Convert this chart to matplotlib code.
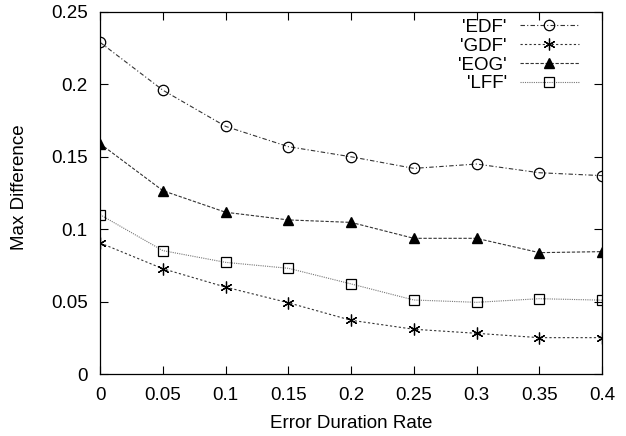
import numpy as np
import matplotlib
matplotlib.use('Agg')
import matplotlib.pyplot as plt

plt.rcParams['font.family'] = ['Liberation Sans', 'DejaVu Sans']

rate = [0, 0.05, 0.1, 0.15, 0.2, 0.25, 0.3, 0.35, 0.4]
edf = [0.229, 0.196, 0.171, 0.157, 0.150, 0.142, 0.145, 0.139, 0.137]
gdf = [0.0905, 0.0727, 0.060, 0.0492, 0.0371, 0.0309, 0.0281, 0.0251, 0.0251]
eog = [0.159, 0.1266, 0.1117, 0.1064, 0.1047, 0.0937, 0.0937, 0.0838, 0.0845]
lff = [0.110, 0.0852, 0.0771, 0.073, 0.0622, 0.0511, 0.0495, 0.052, 0.051]

fig = plt.figure(figsize=(6.26, 4.36), dpi=100)
ax = fig.add_axes([0.16, 0.1422, 0.8017, 0.8303])

ms = 7.5
ax.plot(rate, edf, color='#333333', lw=0.8, dashes=(4, 2, 1, 2),
        marker='o', ms=ms, mfc='none', mec='black', mew=0.9, label="'EDF'")
ax.plot(rate, gdf, color='#333333', lw=0.8, dashes=(2, 2),
        marker=(6, 2, 0), ms=ms + 1, mec='black', mew=0.9, label="'GDF'")
ax.plot(rate, eog, color='#333333', lw=0.8, dashes=(3, 1.5),
        marker='^', ms=ms, mfc='black', mec='black', label="'EOG'")
ax.plot(rate, lff, color='#777777', lw=0.8, dashes=(1, 1),
        marker='s', ms=ms, mfc='none', mec='black', mew=0.9, label="'LFF'")

ax.set_xlim(0, 0.4)
ax.set_ylim(0, 0.25)
ax.set_xticks(rate)
ax.set_xticklabels(['0', '0.05', '0.1', '0.15', '0.2', '0.25', '0.3', '0.35', '0.4'])
ax.set_yticks([0, 0.05, 0.1, 0.15, 0.2, 0.25])
ax.set_yticklabels(['0', '0.05', '0.1', '0.15', '0.2', '0.25'])
ax.tick_params(direction='in', top=True, right=True, length=6, width=0.8,
               labelsize=13.5, pad=9)
for s in ax.spines.values():
    s.set_linewidth(0.9)

ax.set_xlabel('Error Duration Rate', fontsize=13.5, labelpad=8)
ax.set_ylabel('Max Difference', fontsize=13.5)
ax.yaxis.set_label_coords(-0.143, 0.515)

ax.legend(loc='upper right', markerfirst=False, frameon=False, fontsize=13.5,
          numpoints=1, handlelength=3.15, handletextpad=0.7, labelspacing=0.09,
          borderpad=0, borderaxespad=0, bbox_to_anchor=(0.954, 0.981))

fig.savefig('out.png', dpi=100)
